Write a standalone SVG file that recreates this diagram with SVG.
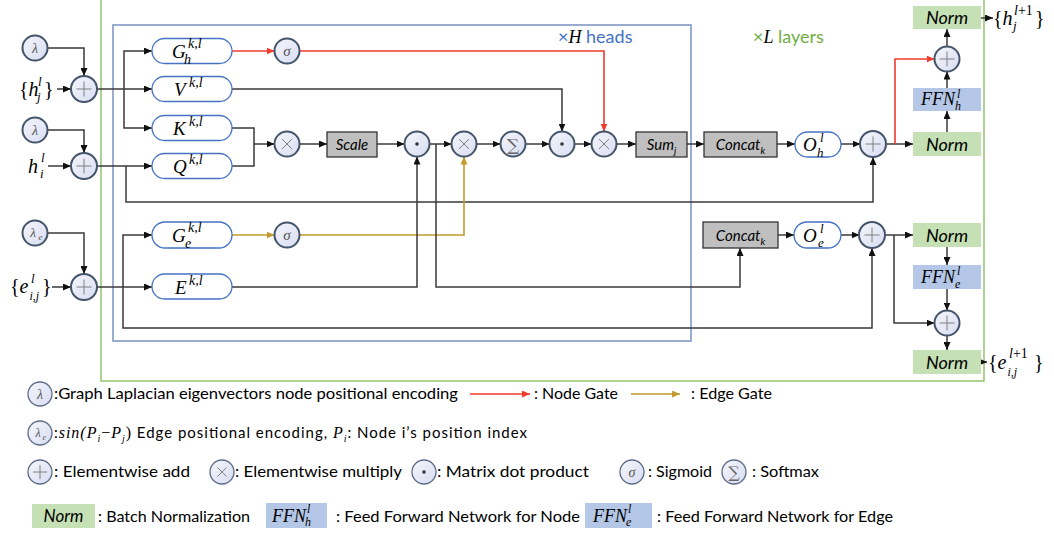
<svg xmlns="http://www.w3.org/2000/svg" width="1054" height="535" viewBox="0 0 1054 535">
<style>
.ln{fill:none;stroke:#3a3a3a;stroke-width:1.5}
.red{fill:none;stroke:#EF3A2D;stroke-width:1.6}
.gold{fill:none;stroke:#C39A2B;stroke-width:1.6}
.op{fill:url(#opf);stroke:#44546A;stroke-width:2}
.lop{fill:url(#opf);stroke:#5E6C88;stroke-width:1.3}
.pill{fill:#fff;stroke:#4472C4;stroke-width:1.3}
.gray{fill:#BFBFBF;stroke:#333;stroke-width:1.3}
.grn{fill:#C5E0B4}
.blu{fill:#B4C7E7}
.sym{stroke:#808080;stroke-width:1;fill:none}
.mi{font-family:"Liberation Serif",serif;font-style:italic;fill:#000}
.up{font-style:normal}
.gs{fill:#555}
.cb{font-family:Lato,"Liberation Sans",sans-serif;font-style:italic;fill:#000}
.lg{font-family:Lato,"Liberation Sans",sans-serif;font-size:15px;fill:#000}
</style>
<defs>
<linearGradient id="opf" x1="0" y1="0" x2="1" y2="1"><stop offset="0" stop-color="#F4F5FB"/><stop offset="1" stop-color="#D9DDF1"/></linearGradient>
<marker id="ab" markerUnits="userSpaceOnUse" markerWidth="8" markerHeight="7" refX="8" refY="3.5" orient="auto"><path d="M0,0 L8,3.5 L0,7 z" fill="#111"/></marker>
<marker id="ar" markerUnits="userSpaceOnUse" markerWidth="8" markerHeight="7" refX="8" refY="3.5" orient="auto"><path d="M0,0 L8,3.5 L0,7 z" fill="#EF3A2D"/></marker>
<marker id="ag" markerUnits="userSpaceOnUse" markerWidth="8" markerHeight="7" refX="8" refY="3.5" orient="auto"><path d="M0,0 L8,3.5 L0,7 z" fill="#C39A2B"/></marker>
</defs>
<rect width="1054" height="535" fill="#fff"/>

<!-- frames -->
<g id="layers-frame">
<rect x="101" y="-3" width="883" height="384" fill="none" stroke="#94C36F" stroke-width="1.5"/>
<text x="753" y="43" font-family="Lato,'Liberation Sans',sans-serif" font-size="18" fill="#70AD47">×<tspan class="mi" fill="#70AD47">L</tspan> layers</text>
</g>
<g id="heads-frame">
<rect x="113" y="25" width="578" height="316" fill="none" stroke="#7991C3" stroke-width="1.5"/>
<text x="558" y="43" font-family="Lato,'Liberation Sans',sans-serif" font-size="18" fill="#4472C4">×<tspan class="mi" fill="#4472C4">H</tspan> heads</text>
</g>

<!-- connectors -->
<g id="connectors">
<path class="ln" d="M47.5,48 H84 V76" marker-end="url(#ab)"/>
<path class="ln" d="M47.5,130 H84 V153" marker-end="url(#ab)"/>
<path class="ln" d="M47.5,233 H84 V274" marker-end="url(#ab)"/>
<path class="ln" d="M57,89 H71" marker-end="url(#ab)"/>
<path class="ln" d="M48,166 H71" marker-end="url(#ab)"/>
<path class="ln" d="M52,287 H71" marker-end="url(#ab)"/>
<path class="ln" d="M97,89 H152" marker-end="url(#ab)"/>
<path class="ln" d="M124,89 V51 H152" marker-end="url(#ab)"/>
<path class="ln" d="M124,89 V128 H152" marker-end="url(#ab)"/>
<path class="ln" d="M97,166 H152" marker-end="url(#ab)"/>
<path class="ln" d="M126,166 V202 H873 V157" marker-end="url(#ab)"/>
<path class="ln" d="M97,287 H152" marker-end="url(#ab)"/>
<path class="ln" d="M123,287 V235 H152" marker-end="url(#ab)"/>
<path class="ln" d="M123,287 V328 H872 V248" marker-end="url(#ab)"/>
<path class="red" d="M232,51 H274.5" marker-end="url(#ar)"/>
<path class="red" d="M299.5,51 H604 V131.5" marker-end="url(#ar)"/>
<path class="gold" d="M232,235 H274.5" marker-end="url(#ag)"/>
<path class="gold" d="M299.5,235 H464 V156.5" marker-end="url(#ag)"/>
<path class="ln" d="M232,89 H562 V131.5" marker-end="url(#ab)"/>
<path class="ln" d="M232,128 H254 V166 H232"/>
<path class="ln" d="M254,144 H274.5" marker-end="url(#ab)"/>
<path class="ln" d="M299.5,144 H327" marker-end="url(#ab)"/>
<path class="ln" d="M377,144 H404.5" marker-end="url(#ab)"/>
<path class="ln" d="M429.5,144 H451.5" marker-end="url(#ab)"/>
<path class="ln" d="M436,144 V287 H740 V248" marker-end="url(#ab)"/>
<path class="ln" d="M232,287 H417 V156.5" marker-end="url(#ab)"/>
<path class="ln" d="M476.5,144 H500.5" marker-end="url(#ab)"/>
<path class="ln" d="M525.5,144 H549.5" marker-end="url(#ab)"/>
<path class="ln" d="M574.5,144 H591.5" marker-end="url(#ab)"/>
<path class="ln" d="M616.5,144 H636" marker-end="url(#ab)"/>
<path class="ln" d="M687,144 H704" marker-end="url(#ab)"/>
<path class="ln" d="M777,144 H795" marker-end="url(#ab)"/>
<path class="ln" d="M841,144 H860.5" marker-end="url(#ab)"/>
<path class="ln" d="M885.5,144 H913" marker-end="url(#ab)"/>
<path class="red" d="M895,144 V59 H934.5" marker-end="url(#ar)"/>
<path class="ln" d="M947,132 V111" marker-end="url(#ab)"/>
<path class="ln" d="M947,88 V71.5" marker-end="url(#ab)"/>
<path class="ln" d="M947,46.5 V29" marker-end="url(#ab)"/>
<path class="ln" d="M981,18 H993" marker-end="url(#ab)"/>
<path class="ln" d="M778,235 H794" marker-end="url(#ab)"/>
<path class="ln" d="M841,235 H859.5" marker-end="url(#ab)"/>
<path class="ln" d="M884.5,235 H913" marker-end="url(#ab)"/>
<path class="ln" d="M894,235 V323 H934.5" marker-end="url(#ab)"/>
<path class="ln" d="M947,247 V265" marker-end="url(#ab)"/>
<path class="ln" d="M947,289 V310.5" marker-end="url(#ab)"/>
<path class="ln" d="M947,335.5 V350" marker-end="url(#ab)"/>
<path class="ln" d="M981,362 H987" marker-end="url(#ab)"/>
</g>

<!-- inputs -->
<g id="lam1"><circle class="op" cx="35" cy="48" r="12.5"/><text class="mi gs" x="35" y="53" font-size="14" text-anchor="middle">λ</text></g>
<g id="lam2"><circle class="op" cx="35" cy="130" r="12.5"/><text class="mi gs" x="35" y="135" font-size="14" text-anchor="middle">λ</text></g>
<g id="lame"><circle class="op" cx="35" cy="233" r="12.5"/><text class="mi gs" x="33" y="237" font-size="13" text-anchor="middle">λ</text><text class="mi gs" x="38.5" y="240" font-size="9">e</text></g>
<g id="hj-in"><text class="mi" x="19" y="96" font-size="20"><tspan class="up">{</tspan>h</text><text class="mi" x="38" y="86" font-size="13">l</text><text class="mi" x="37" y="101" font-size="13">j</text><text class="mi up" x="44" y="96" font-size="20">}</text></g>
<g id="hi-in"><text class="mi" x="28" y="173" font-size="20">h</text><text class="mi" x="41" y="162" font-size="13">l</text><text class="mi" x="40" y="178" font-size="13">i</text></g>
<g id="eij-in"><text class="mi" x="10" y="293" font-size="20"><tspan class="up">{</tspan>e</text><text class="mi" x="31" y="283" font-size="13">l</text><text class="mi" x="29.5" y="300" font-size="12">i,j</text><text class="mi up" x="42" y="293" font-size="20">}</text></g>
<g id="plus1"><circle class="op" cx="84" cy="89" r="13"/><path class="sym" d="M76.5,89 H91.5 M84,81.5 V96.5"/></g>
<g id="plus2"><circle class="op" cx="84" cy="166" r="13"/><path class="sym" d="M76.5,166 H91.5 M84,158.5 V173.5"/></g>
<g id="plus3"><circle class="op" cx="84" cy="287" r="13"/><path class="sym" d="M76.5,287 H91.5 M84,279.5 V294.5"/></g>

<!-- projections -->
<g id="Gh"><rect class="pill" x="152" y="38.5" width="80" height="25" rx="12.5"/><text class="mi" x="172" y="58" font-size="19">G</text><text class="mi" x="188" y="48" font-size="14">k,l</text><text class="mi" x="184" y="64" font-size="14">h</text></g>
<g id="V"><rect class="pill" x="152" y="76.5" width="80" height="25" rx="12.5"/><text class="mi" x="174" y="96" font-size="19">V</text><text class="mi" x="189" y="87" font-size="14">k,l</text></g>
<g id="K"><rect class="pill" x="152" y="115.5" width="80" height="25" rx="12.5"/><text class="mi" x="173" y="135" font-size="19">K</text><text class="mi" x="189" y="126" font-size="14">k,l</text></g>
<g id="Q"><rect class="pill" x="152" y="153.5" width="80" height="25" rx="12.5"/><text class="mi" x="173" y="173" font-size="19">Q</text><text class="mi" x="189" y="164" font-size="14">k,l</text></g>
<g id="Ge"><rect class="pill" x="152" y="222" width="80" height="26" rx="13"/><text class="mi" x="172" y="242" font-size="19">G</text><text class="mi" x="188" y="232" font-size="14">k,l</text><text class="mi" x="185" y="248" font-size="14">e</text></g>
<g id="E"><rect class="pill" x="152" y="274" width="80" height="25" rx="12.5"/><text class="mi" x="175" y="294" font-size="19">E</text><text class="mi" x="189" y="285" font-size="14">k,l</text></g>

<!-- attention ops -->
<g id="sig-h"><circle class="op" cx="287" cy="51" r="12.5"/><text class="mi gs" x="287" y="56" font-size="15" text-anchor="middle">σ</text></g>
<g id="sig-e"><circle class="op" cx="287" cy="235" r="12.5"/><text class="mi gs" x="287" y="240" font-size="15" text-anchor="middle">σ</text></g>
<g id="mul1"><circle class="op" cx="287" cy="144" r="12.5"/><path class="sym" d="M282,139 L292,149 M292,139 L282,149"/></g>
<g id="scale"><rect class="gray" x="327" y="132" width="50" height="25"/><text class="cb" x="352" y="150" font-size="15" text-anchor="middle">Scale</text></g>
<g id="dot1"><circle class="op" cx="417" cy="144" r="12.5"/><circle cx="417" cy="144" r="1.8" fill="#333"/></g>
<g id="mul2"><circle class="op" cx="464" cy="144" r="12.5"/><path class="sym" d="M459,139 L469,149 M469,139 L459,149"/></g>
<g id="softmax"><circle class="op" cx="513" cy="144" r="12.5"/><text x="513" y="150.5" font-family="'DejaVu Serif',serif" font-size="17" fill="#666" text-anchor="middle">∑</text></g>
<g id="dot2"><circle class="op" cx="562" cy="144" r="12.5"/><circle cx="562" cy="144" r="1.8" fill="#333"/></g>
<g id="mul3"><circle class="op" cx="604" cy="144" r="12.5"/><path class="sym" d="M599,139 L609,149 M609,139 L599,149"/></g>
<g id="sum"><rect class="gray" x="636" y="132" width="51" height="25"/><text class="cb" x="661.5" y="150" font-size="15" text-anchor="middle">Sum<tspan font-size="10" dy="4">j</tspan></text></g>

<!-- node output path -->
<g id="concat-h"><rect class="gray" x="704" y="132" width="73" height="25"/><text class="cb" x="740.5" y="150" font-size="15" text-anchor="middle">Concat<tspan font-size="10" dy="4">k</tspan></text></g>
<g id="Oh"><rect class="pill" x="795" y="132" width="46" height="25" rx="12.5"/><text class="mi" x="803" y="151" font-size="19">O</text><text class="mi" x="820" y="142" font-size="13">l</text><text class="mi" x="817" y="157" font-size="13">h</text></g>
<g id="plus-h"><circle class="op" cx="873" cy="144" r="13"/><path class="sym" d="M865.5,144 H880.5 M873,136.5 V151.5"/></g>
<g id="norm-h1"><rect class="grn" x="913" y="132" width="68" height="24"/><text class="cb" x="947" y="150.5" font-size="18" text-anchor="middle">Norm</text></g>
<g id="ffn-h"><rect class="blu" x="913" y="88" width="68" height="23"/><text class="mi" x="921" y="105" font-size="18">FFN</text><text class="mi" x="957" y="98" font-size="12">l</text><text class="mi" x="955" y="110" font-size="12">h</text></g>
<g id="plus-h2"><circle class="op" cx="947" cy="59" r="12.5"/><path class="sym" d="M939.5,59 H954.5 M947,51.5 V66.5"/></g>
<g id="norm-h2"><rect class="grn" x="913" y="6" width="68" height="23"/><text class="cb" x="947" y="24" font-size="18" text-anchor="middle">Norm</text></g>
<g id="hj-out"><text class="mi" x="993" y="25" font-size="20"><tspan class="up">{</tspan>h</text><text class="mi" x="1014" y="15" font-size="14">l<tspan class="up">+1</tspan></text><text class="mi" x="1013" y="30" font-size="13">j</text><text class="mi up" x="1035" y="25" font-size="20">}</text></g>

<!-- edge output path -->
<g id="concat-e"><rect class="gray" x="703" y="222" width="75" height="26"/><text class="cb" x="740.5" y="240.5" font-size="15" text-anchor="middle">Concat<tspan font-size="10" dy="4">k</tspan></text></g>
<g id="Oe"><rect class="pill" x="794" y="222" width="47" height="26" rx="13"/><text class="mi" x="803" y="242" font-size="19">O</text><text class="mi" x="820" y="233" font-size="13">l</text><text class="mi" x="818" y="247" font-size="13">e</text></g>
<g id="plus-e"><circle class="op" cx="872" cy="235" r="13"/><path class="sym" d="M864.5,235 H879.5 M872,227.5 V242.5"/></g>
<g id="norm-e1"><rect class="grn" x="913" y="223" width="68" height="24"/><text class="cb" x="947" y="241.5" font-size="18" text-anchor="middle">Norm</text></g>
<g id="ffn-e"><rect class="blu" x="913" y="265" width="68" height="24"/><text class="mi" x="921" y="283" font-size="18">FFN</text><text class="mi" x="957" y="275" font-size="12">l</text><text class="mi" x="955" y="288" font-size="12">e</text></g>
<g id="plus-e2"><circle class="op" cx="947" cy="323" r="12.5"/><path class="sym" d="M939.5,323 H954.5 M947,315.5 V330.5"/></g>
<g id="norm-e2"><rect class="grn" x="913" y="350" width="68" height="24"/><text class="cb" x="947" y="368.5" font-size="18" text-anchor="middle">Norm</text></g>
<g id="eij-out"><text class="mi" x="988" y="369" font-size="20"><tspan class="up">{</tspan>e</text><text class="mi" x="1009" y="358" font-size="14">l<tspan class="up">+1</tspan></text><text class="mi" x="1007.5" y="376" font-size="12">i,j</text><text class="mi up" x="1034" y="369" font-size="20">}</text></g>

<!-- legend -->
<g id="legend">
<circle class="lop" cx="40" cy="394" r="12"/><text class="mi gs" x="40" y="399" font-size="14" text-anchor="middle">λ</text>
<text class="lg" x="54" y="399" textLength="404" lengthAdjust="spacingAndGlyphs">:Graph Laplacian eigenvectors node positional encoding</text>
<path class="red" d="M470,394 H530" stroke-width="1.3" marker-end="url(#ar)"/>
<text class="lg" x="534" y="399" textLength="84" lengthAdjust="spacingAndGlyphs">: Node Gate</text>
<path class="gold" d="M631,394 H680" stroke-width="1.3" marker-end="url(#ag)"/>
<text class="lg" x="691" y="399" textLength="81" lengthAdjust="spacingAndGlyphs">: Edge Gate</text>

<circle class="lop" cx="40" cy="433" r="12"/><text class="mi gs" x="38" y="437" font-size="12" text-anchor="middle">λ</text><text class="mi gs" x="42.5" y="440" font-size="8">e</text>
<text class="lg" x="54" y="438" textLength="473" lengthAdjust="spacing">:<tspan class="mi" font-size="16">sin(P</tspan><tspan class="mi" font-size="10" dy="4">i</tspan><tspan class="mi up" font-size="16" dy="-4">−</tspan><tspan class="mi" font-size="16">P</tspan><tspan class="mi" font-size="10" dy="4">j</tspan><tspan class="mi up" font-size="16" dy="-4">)</tspan> Edge positional encoding, <tspan class="mi" font-size="16">P</tspan><tspan class="mi" font-size="10" dy="4">i</tspan><tspan dy="-4">: Node i’s position index</tspan></text>

<circle class="lop" cx="40" cy="472" r="12"/><path class="sym" d="M33,472 H47 M40,465 V479"/>
<text class="lg" x="54" y="477" textLength="136" lengthAdjust="spacingAndGlyphs">: Elementwise add</text>
<circle class="lop" cx="222" cy="472" r="12"/><path class="sym" d="M217.5,467.5 L226.5,476.5 M226.5,467.5 L217.5,476.5"/>
<text class="lg" x="235" y="477" textLength="167" lengthAdjust="spacingAndGlyphs">: Elementwise multiply</text>
<circle class="lop" cx="424" cy="472" r="12"/><circle cx="424" cy="472" r="1.8" fill="#333"/>
<text class="lg" x="437" y="477" textLength="152" lengthAdjust="spacingAndGlyphs">: Matrix dot product</text>
<circle class="lop" cx="632" cy="472" r="12"/><text class="mi gs" x="632" y="477" font-size="14" text-anchor="middle">σ</text>
<text class="lg" x="648" y="477" textLength="64" lengthAdjust="spacingAndGlyphs">: Sigmoid</text>
<circle class="lop" cx="734" cy="472" r="12"/><text x="734" y="478" font-family="'DejaVu Serif',serif" font-size="16" fill="#666" text-anchor="middle">∑</text>
<text class="lg" x="752" y="477" textLength="67" lengthAdjust="spacingAndGlyphs">: Softmax</text>

<rect class="grn" x="32" y="504" width="63" height="24"/><text class="cb" x="63.5" y="522" font-size="17" text-anchor="middle">Norm</text>
<text class="lg" x="98" y="522" textLength="152" lengthAdjust="spacingAndGlyphs">: Batch Normalization</text>
<rect class="blu" x="266" y="503" width="61" height="25"/><text class="mi" x="272" y="522" font-size="18">FFN</text><text class="mi" x="307" y="513" font-size="12">l</text><text class="mi" x="305" y="526" font-size="12">h</text>
<text class="lg" x="336" y="522" textLength="244" lengthAdjust="spacingAndGlyphs">: Feed Forward Network for Node</text>
<rect class="blu" x="585" y="503" width="67" height="25"/><text class="mi" x="593" y="522" font-size="18">FFN</text><text class="mi" x="628" y="513" font-size="12">l</text><text class="mi" x="626" y="526" font-size="12">e</text>
<text class="lg" x="657" y="522" textLength="236" lengthAdjust="spacingAndGlyphs">: Feed Forward Network for Edge</text>
</g>
</svg>
